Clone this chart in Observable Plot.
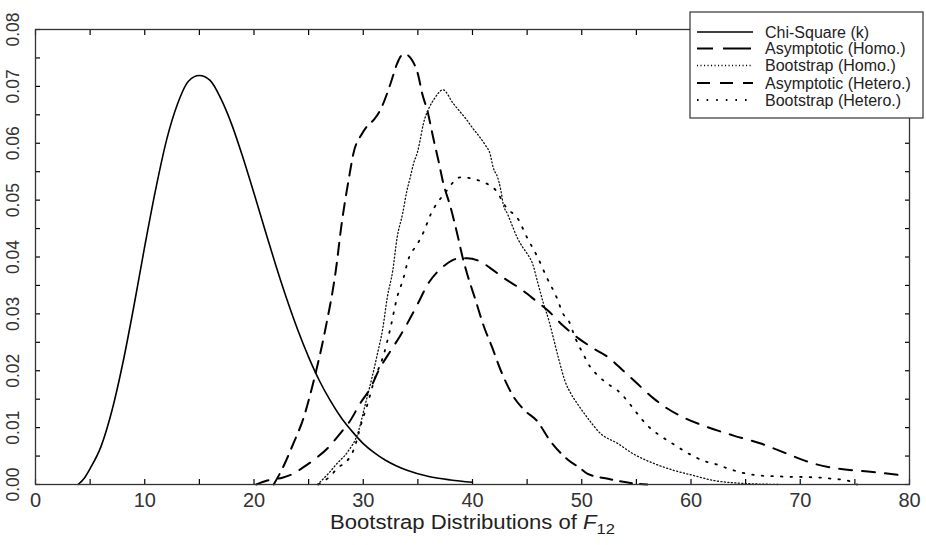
<!DOCTYPE html>
<html>
<head>
<meta charset="utf-8">
<script src="https://cdn.jsdelivr.net/npm/d3@7"></script>
<script src="https://cdn.jsdelivr.net/npm/@observablehq/plot@0.6"></script>
<style>
  html, body { margin: 0; padding: 0; background: #fff; }
  #chart { width: 926px; height: 545px; }
</style>
</head>
<body>
<div id="chart"></div>
<script>
// ---- data ----
const seriesNames = ["Chi-Square (k)", "Asymptotic (Homo.)", "Bootstrap (Homo.)", "Asymptotic (Hetero.)", "Bootstrap (Hetero.)"];

const chiX = [3.9, 4.5, 5, 6, 7, 8, 9, 10, 11, 12, 13, 14, 15, 16, 17, 18, 19, 20, 21, 22, 23, 24, 25, 26, 27, 28, 29, 30, 31, 32, 33, 34, 36, 38, 40];
const chiY = [0, 0.0012, 0.0028, 0.0067, 0.0130, 0.0214, 0.0313, 0.0419, 0.0519, 0.0606, 0.0669, 0.0709, 0.0719, 0.0710, 0.0677, 0.0631, 0.0574, 0.0512, 0.0448, 0.0385, 0.0326, 0.0272, 0.0224, 0.0182, 0.0147, 0.0117, 0.0093, 0.0072, 0.0056, 0.0043, 0.0033, 0.0025, 0.0014, 0.0008, 0.0004];

const asymHomoX = [21.8, 22.6, 23.6, 24.5, 25.5, 26.5, 27.5, 28.0, 28.7, 29.1, 29.9, 30.4, 31.0, 31.6, 32.5, 33.1, 33.5, 33.9, 34.5, 35.0, 35.4, 35.9, 36.4, 36.9, 37.3, 38.0, 38.6, 39.1, 39.5, 40.3, 41.0, 41.8, 42.6, 43.8, 44.8, 45.9, 47.1, 48.7, 49.9, 50.5, 52.4, 54.7, 56];
const asymHomoY = [0, 0.0028, 0.0072, 0.0115, 0.0185, 0.0270, 0.0378, 0.0455, 0.0540, 0.0582, 0.0617, 0.0631, 0.0642, 0.0660, 0.0705, 0.0740, 0.0754, 0.0756, 0.0745, 0.0722, 0.0687, 0.0655, 0.0610, 0.0568, 0.0532, 0.0487, 0.0441, 0.0399, 0.0371, 0.0323, 0.0280, 0.0241, 0.0200, 0.0153, 0.0130, 0.0112, 0.0077, 0.0044, 0.0028, 0.0019, 0.0010, 0.0002, 0];

const bootHomoX = [25.8, 26.8, 27.6, 28.6, 29.5, 30.2, 30.8, 31.3, 31.8, 32.2, 32.7, 33.1, 33.6, 34.0, 34.3, 34.6, 35.0, 35.2, 35.5, 36.0, 36.5, 37.3, 38.2, 38.7, 39.4, 40.0, 40.7, 41.2, 41.6, 41.9, 42.3, 42.6, 42.8, 43.2, 43.7, 44.1, 44.6, 45.0, 45.5, 46.0, 46.5, 47.0, 47.4, 47.9, 48.5, 49.0, 49.6, 50.5, 51.7, 53.3, 54.7, 56.6, 58.4, 60.2, 62.1, 63.9, 66, 68];
const bootHomoY = [0, 0.0019, 0.0037, 0.0058, 0.0090, 0.0142, 0.0188, 0.0230, 0.0276, 0.0329, 0.0376, 0.0434, 0.0476, 0.0517, 0.0540, 0.0564, 0.0587, 0.0605, 0.0634, 0.0661, 0.0678, 0.0694, 0.0671, 0.0659, 0.0643, 0.0627, 0.0610, 0.0596, 0.0582, 0.0557, 0.0540, 0.0517, 0.0494, 0.0476, 0.0452, 0.0434, 0.0417, 0.0406, 0.0388, 0.0353, 0.0318, 0.0288, 0.0258, 0.0220, 0.0180, 0.0160, 0.0142, 0.0118, 0.0090, 0.0072, 0.0054, 0.0037, 0.0025, 0.0016, 0.0007, 0.0003, 0.0001, 0];

const asymHeteroX = [20.2, 21.2, 22.6, 23.6, 24.5, 25.6, 26.8, 27.9, 28.8, 29.7, 30.7, 31.4, 32.5, 33.4, 34.0, 35.0, 35.9, 36.8, 37.5, 38.6, 39.5, 40.9, 41.6, 42.8, 44.4, 45.8, 46.9, 48.3, 49.7, 51.1, 52.4, 53.8, 55.1, 56.6, 57.8, 59.3, 61.5, 63.9, 66.4, 68.8, 71.2, 73.4, 76.2, 78.9];
const asymHeteroY = [0, 0.0007, 0.0012, 0.0019, 0.0030, 0.0045, 0.0065, 0.0090, 0.0112, 0.0142, 0.0171, 0.0200, 0.0235, 0.0262, 0.0282, 0.0318, 0.0352, 0.0374, 0.0386, 0.0397, 0.0398, 0.0390, 0.0381, 0.0364, 0.0344, 0.0323, 0.0306, 0.0279, 0.0257, 0.0239, 0.0224, 0.0200, 0.0177, 0.0151, 0.0134, 0.0118, 0.0101, 0.0086, 0.0072, 0.0054, 0.0037, 0.0028, 0.0023, 0.0017];

const bootHeteroX = [25.9, 27.0, 27.7, 28.4, 29.1, 29.9, 30.4, 31.0, 31.9, 32.5, 33.1, 33.7, 34.1, 35.0, 35.5, 36.2, 36.8, 37.3, 38.9, 41.3, 42.1, 43.1, 44.2, 45.0, 45.9, 46.8, 47.7, 48.3, 48.8, 49.4, 50.2, 50.8, 51.3, 52.6, 53.3, 54.3, 54.7, 56.1, 57.4, 58.3, 60.1, 61.1, 62.4, 63.4, 66.1, 68.4, 71.9, 73.0, 74.3, 75.2];
const bootHeteroY = [0, 0.0015, 0.0030, 0.0039, 0.0060, 0.0112, 0.0142, 0.0183, 0.0230, 0.0276, 0.0329, 0.0364, 0.0394, 0.0424, 0.0443, 0.0476, 0.0496, 0.0508, 0.0540, 0.0529, 0.0518, 0.0487, 0.0466, 0.0434, 0.0402, 0.0364, 0.0329, 0.0300, 0.0288, 0.0258, 0.0227, 0.0206, 0.0195, 0.0174, 0.0165, 0.0144, 0.0134, 0.0102, 0.0083, 0.0072, 0.0051, 0.0042, 0.0035, 0.0028, 0.0016, 0.0014, 0.0012, 0.0010, 0.0007, 0];

const xTickLabels = [0, 10, 20, 30, 40, 50, 60, 70, 80];
const xMinorTicks = [0, 5, 10, 15, 20, 25, 30, 35, 40, 45, 50, 55, 60, 65, 70, 75, 80];
const yTickLabels = [0, 0.01, 0.02, 0.03, 0.04, 0.05, 0.06, 0.07, 0.08];
const yMinorTicks = [0, 0.005, 0.01, 0.015, 0.02, 0.025, 0.03, 0.035, 0.04, 0.045, 0.05, 0.055, 0.06, 0.065, 0.07, 0.075, 0.08];

// ---- build table ----
const toRows = (xs, ys) => xs.map((x, i) => ({x, y: ys[i]}));
const chi = toRows(chiX, chiY);
const asymHomo = toRows(asymHomoX, asymHomoY);
const bootHomo = toRows(bootHomoX, bootHomoY);
const asymHetero = toRows(asymHeteroX, asymHeteroY);
const bootHetero = toRows(bootHeteroX, bootHeteroY);

const styles = [
  {stroke: "#000", strokeWidth: 1.6, strokeDasharray: null},
  {stroke: "#000", strokeWidth: 2, strokeDasharray: "12,8"},
  {stroke: "#111", strokeWidth: 1.3, strokeDasharray: "1.1,2.4"},
  {stroke: "#000", strokeWidth: 2, strokeDasharray: "13,10"},
  {stroke: "#000", strokeWidth: 1.8, strokeDasharray: "1.6,8"}
];

const fmt = d3.format(".2f");
const FONT = "'Liberation Sans', Arial, Helvetica, sans-serif";

const plot = Plot.plot({
  width: 926,
  height: 545,
  marginLeft: 35,
  marginRight: 17,
  marginTop: 29,
  marginBottom: 61,
  style: {fontFamily: FONT, fontSize: "17px", color: "#000", background: "#fff", overflow: "visible"},
  x: {domain: [0, 80]},
  y: {domain: [0, 0.08]},
  marks: [
    Plot.line(chi, {x: "x", y: "y", curve: "monotone-x", ...styles[0]}),
    Plot.line(asymHomo, {x: "x", y: "y", curve: "monotone-x", ...styles[1]}),
    Plot.line(bootHomo, {x: "x", y: "y", curve: "monotone-x", ...styles[2]}),
    Plot.line(asymHetero, {x: "x", y: "y", curve: "monotone-x", ...styles[3]}),
    Plot.line(bootHetero, {x: "x", y: "y", curve: "monotone-x", ...styles[4]}),
    // inward minor ticks on all four sides
    Plot.axisX({anchor: "bottom", ticks: xMinorTicks, tickSize: -5, tickFormat: () => "", label: null, strokeWidth: 1.2}),
    Plot.axisX({anchor: "top", ticks: xMinorTicks, tickSize: -5, tickFormat: () => "", label: null, strokeWidth: 1.2}),
    Plot.axisY({anchor: "left", ticks: yMinorTicks, tickSize: -5, tickFormat: () => "", label: null, strokeWidth: 1.2}),
    Plot.axisY({anchor: "right", ticks: yMinorTicks, tickSize: -5, tickFormat: () => "", label: null, strokeWidth: 1.2}),
    // tick labels
    Plot.text(xTickLabels, {x: d => d, text: d => String(d), frameAnchor: "bottom", dy: 16, lineAnchor: "middle", textAnchor: "middle", fontSize: 20, fill: "#333"}),
    Plot.text(yTickLabels, {y: d => d, text: d => fmt(d), frameAnchor: "left", dx: -22, rotate: -90, textAnchor: "middle", lineAnchor: "middle", fontSize: 17.5, fill: "#333"}),
    Plot.frame({stroke: "#333", strokeWidth: 1.3})
  ]
});

document.getElementById("chart").appendChild(plot);

// axis title with italic F and subscript
const svg = d3.select(plot);
const title = svg.append("text")
  .attr("x", 330).attr("y", 529)
  .attr("text-anchor", "start")
  .attr("textLength", 285).attr("lengthAdjust", "spacingAndGlyphs")
  .attr("font-family", FONT).attr("font-size", 20).attr("fill", "#222");
title.append("tspan").text("Bootstrap Distributions of ");
title.append("tspan").attr("font-style", "italic").text("F");
title.append("tspan").attr("font-size", 15).attr("dy", 5).text("12");

// legend (drawn over the top-right corner, like the reference)
const lg = svg.append("g").attr("font-family", FONT).attr("font-size", 16).attr("fill", "#222")
  .attr("text-anchor", "start");
lg.append("rect").attr("x", 690).attr("y", 12).attr("width", 233).attr("height", 106)
  .attr("fill", "#fff").attr("stroke", "#333").attr("stroke-width", 1.2);
const rowY = [32, 48.5, 65.5, 83, 100];
const legendDash = [null, "28,10", "1.1,2.4", "13,10", "1.6,8"];
seriesNames.forEach((name, i) => {
  lg.append("line").attr("x1", 697).attr("x2", 753).attr("y1", rowY[i]).attr("y2", rowY[i])
    .attr("stroke", "#000").attr("stroke-width", styles[i].strokeWidth)
    .attr("stroke-dasharray", legendDash[i])
    .attr("stroke-dashoffset", i === 1 ? 12 : 0);
  lg.append("text").attr("x", 765).attr("y", rowY[i]).attr("dy", "0.35em")
    .attr("text-anchor", "start").text(name);
});
</script>
</body>
</html>
